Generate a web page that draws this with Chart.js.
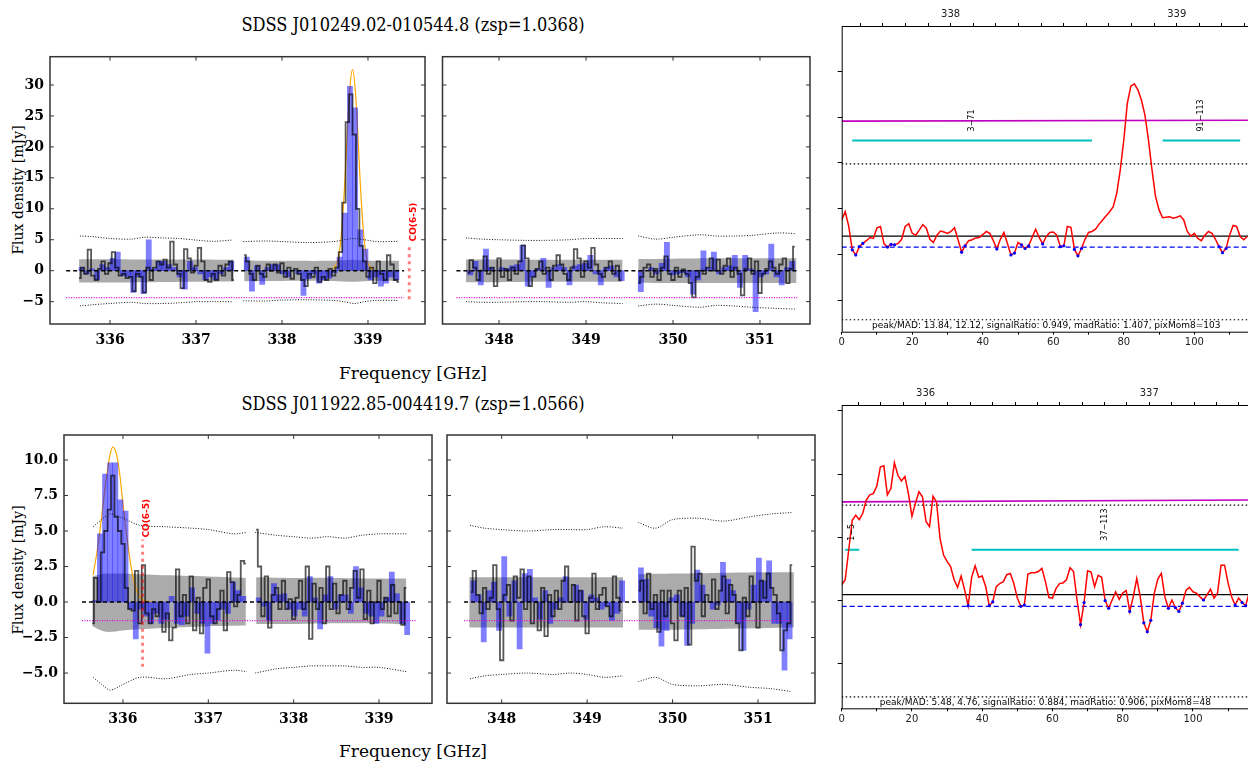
<!DOCTYPE html>
<html>
<head>
<meta charset="utf-8">
<script src="https://cdn.jsdelivr.net/npm/chart.js@4.4.1/dist/chart.umd.min.js"></script>
<style>
  html, body { margin:0; padding:0; background:#fff; width:1248px; height:761px; overflow:hidden; position:relative; }
  canvas { position:absolute; }
  .lbl { position:absolute; left:0; width:826px; height:20px; line-height:20px; text-align:center; font-family:'DejaVu Serif', serif; color:#000; white-space:nowrap; }
  .ttl { font-family:'DejaVu Serif Condensed', 'DejaVu Serif', serif; font-stretch:condensed; font-size:18px; }
  .ylab { position:absolute; font-family:'DejaVu Serif', serif; font-size:14px; color:#000; white-space:nowrap; transform:translate(-50%,-50%) rotate(-90deg); }
</style>
</head>
<body>
<div class="lbl ttl" style="top:15px;">SDSS J010249.02-010544.8 (zsp=1.0368)</div>
<div class="lbl" style="top:363px;font-size:17px;">Frequency [GHz]</div>
<div class="ylab" style="left:18px;top:190px;">Flux density [mJy]</div>
<div class="lbl ttl" style="top:394px;">SDSS J011922.85-004419.7 (zsp=1.0566)</div>
<div class="lbl" style="top:741px;font-size:17px;">Frequency [GHz]</div>
<div class="ylab" style="left:18px;top:570px;">Flux density [mJy]</div>

<canvas id="specA" width="440" height="320" style="left:0px;top:40px"></canvas>
<canvas id="specB" width="390" height="320" style="left:430px;top:40px"></canvas>
<canvas id="diagTop" width="460" height="360" style="left:800px;top:0px"></canvas>
<canvas id="specC" width="440" height="320" style="left:0px;top:420px"></canvas>
<canvas id="specD" width="390" height="320" style="left:440px;top:420px"></canvas>
<canvas id="diagBot" width="460" height="360" style="left:800px;top:380px"></canvas>

<script>
// ---------- row 1 : J010249.02-010544.8 ----------
// fine channels every 0.04 GHz, binned bars every 0.06 GHz
const grayA1 = [-1.2, 0.5, -0.5, 3.4, -0.8, -1.5, 0.3, 1.5, -0.5, 1.2,
  3.0, 0.5, -0.8, -0.5, -1.2, -1.0, -3.3, -0.5, -1.0, -3.5,
  0.5, -1.5, 0.5, 1.5, 1.0, 1.8, 0.5, 4.7, 1.0, -0.5,
  -2.8, 3.5, 2.0, -0.3, 0.8, 3.7, 1.5, -1.5, -1.8, -0.5,
  -1.5, 0.8, -0.8, 1.0, 1.5, -1.5];
const grayA2 = [2.5, 1.5, -0.5, -1.5, 0.8, -0.5, -1.0, 1.0, 0.0, 1.0,
  -0.3, 1.2, -1.0, 0.5, -1.3, 0.3, -0.5, -1.5, -2.5, -0.5,
  -1.0, 0.5, -1.8, -1.0, -1.5, 0.3, -0.8, 0.5, 3.0, 11.0,
  24.0, 28.5, 22.0, 10.0, 4.0, 1.5, -1.0, 0.5, -2.0, 1.5,
  -0.5, -1.5, 2.5, 1.0, -1.5, -1.8];
const blueA1 = [0.5, -0.5, 0.3, -1.5, 1.0, 0.5, 2.0, 3.0, -0.8, -1.0,
  -3.5, -1.0, -3.7, 5.0, 0.3, 1.5, 1.5, 1.0, 0.5, -1.0,
  -3.0, 1.5, 0.5, -0.5, -1.5, -1.0, -1.5, -0.5, 0.5, 1.5];
const blueA2 = [2.2, -3.3, 0.8, -2.2, 0.5, 1.0, 1.0, -0.5, -1.0, 0.0,
  -0.5, -4.0, -1.3, -0.5, -2.0, -1.5, -1.2, -0.3, 2.2, 9.3,
  29.8, 26.3, 6.6, 3.5, -1.5, -1.0, -2.5, -2.0, -1.0, -1.5];
const fitFreqA = [338.58, 338.64, 338.67, 338.70, 338.73, 338.76, 338.79, 338.82, 338.85, 338.88, 338.91, 338.94, 338.97, 339.00, 339.06];
const fitValA = [0.2, 1.3, 3.3, 7.5, 14.2, 22.5, 29.6, 32.5, 29.6, 22.5, 14.2, 7.5, 3.3, 1.2, 0.1];

const grayB1 = [-0.3, 1.7, 0.5, -1.5, 0.0, 2.3, -0.5, 0.5, -2.5, 2.0,
  -1.0, 0.3, -1.5, 0.5, -0.5, 1.5, 4.1, 2.0, -2.5, -1.0,
  0.3, 1.5, -0.5, 0.5, -1.5, 0.8, 2.5, 1.0, -0.5, -1.5,
  0.5, 3.5, 2.0, -1.0, 1.5, 0.5, 3.7, 1.0, -0.5, -1.0,
  0.5, 1.5, -0.5, 0.8, -1.5];
const grayB2 = [-2.0, -1.0, 0.5, 1.0, -1.0, 0.3, -1.5, 0.5, 2.3, -0.5,
  -1.5, 0.5, -1.0, 0.2, -0.5, -2.0, -4.3, -1.0, 0.0, -0.5,
  0.5, 2.0, 0.0, 1.8, -0.5, 0.8, 2.0, -1.0, 0.5, -0.5,
  -4.0, 0.3, 2.0, -0.5, 1.5, -3.6, -0.5, 0.3, 1.5, 0.5,
  -0.5, 1.0, 2.0, -2.0, 0.3, 3.9];
const blueB1 = [-0.7, 1.5, -2.3, 3.5, 0.5, 0.0, 0.5, 0.3, 0.8, 1.0,
  4.1, -2.5, -1.0, 0.3, 2.0, -2.7, 0.5, 1.0, 0.5, -2.3,
  0.8, 1.0, 1.2, 2.5, -0.5, -2.3, 0.5, 0.8, -1.0, -1.6];
const blueB2 = [-3.4, 0.0, 0.5, -0.5, 1.2, 4.6, -0.7, -0.5, -0.3, -1.0,
  -3.8, -1.5, 3.2, 0.5, 3.0, -0.5, 0.5, 0.8, 2.5, -2.7,
  2.5, 0.3, -6.6, -1.0, -0.5, 4.3, -1.0, -2.3, 0.5, 1.5];

// noise band (+-1 sigma) and 3 sigma envelopes
const bandA = [
  { f: [335.64, 336.0, 336.5, 337.0, 337.44], hi: [1.85, 1.85, 1.8, 1.8, 1.75], lo: [-1.9, -1.9, -1.85, -1.8, -1.75] },
  { f: [337.56, 338.0, 338.6, 338.82, 339.0, 339.36], hi: [1.65, 1.6, 1.6, 1.75, 1.6, 1.6], lo: [-1.7, -1.65, -1.65, -1.8, -1.65, -1.65] }];
const envA = [
  { f: [335.65, 335.8, 336.0, 336.25, 336.4, 336.6, 336.8, 337.0, 337.2, 337.42], hi: [5.6, 5.5, 5.2, 5.1, 5.4, 5.3, 5.2, 4.95, 4.75, 4.95], lo: [-5.7, -5.5, -5.3, -5.1, -5.3, -5.3, -5.2, -5.0, -5.0, -5.0] },
  { f: [337.55, 337.8, 338.0, 338.3, 338.6, 338.72, 338.84, 338.96, 339.1, 339.35], hi: [4.7, 4.8, 4.7, 4.55, 4.7, 5.0, 5.2, 5.0, 4.7, 4.75], lo: [-4.85, -4.9, -4.75, -4.7, -4.8, -5.0, -5.3, -5.0, -4.8, -4.8] }];
const bandB = [
  { f: [347.62, 348.0, 348.5, 349.0, 349.42], hi: [1.8, 1.8, 1.75, 1.75, 1.75], lo: [-1.85, -1.85, -1.8, -1.8, -1.8] },
  { f: [349.6, 350.0, 350.5, 351.0, 351.42], hi: [1.9, 1.95, 2.0, 2.0, 2.0], lo: [-1.95, -2.0, -2.0, -2.0, -2.0] }];
const envB = [
  { f: [347.62, 347.8, 348.0, 348.3, 348.5, 348.8, 349.0, 349.2, 349.42], hi: [5.3, 5.1, 5.0, 4.9, 4.9, 5.0, 5.2, 5.2, 5.2], lo: [-5.0, -5.1, -5.1, -5.0, -5.0, -5.1, -5.0, -5.2, -5.3] },
  { f: [349.6, 349.8, 350.0, 350.3, 350.5, 350.7, 350.9, 351.2, 351.4], hi: [5.6, 5.1, 5.4, 5.8, 5.6, 5.6, 5.7, 6.1, 6.0], lo: [-5.7, -5.4, -5.6, -5.9, -5.6, -5.7, -5.9, -6.1, -6.2] }];

// ---------- row 2 : J011922.85-004419.7 ----------
const grayC1 = [-1.5, 1.7, 0.0, 3.5, 5.0, 6.5, 8.9, 6.0, 5.0, 4.1,
  1.0, -0.5, -0.6, 2.2, -1.5, 2.6, -0.8, -1.5, -0.5, -1.0,
  0.0, -2.1, -0.8, -2.7, -1.8, 2.3, -1.0, 0.5, -1.5, 1.8,
  -2.0, 0.3, -2.2, 1.0, 1.6, -1.0, -1.5, -0.5, 0.8, -2.0,
  2.1, 1.4, -0.3, 0.5, 2.9, 2.7];
const grayC2 = [5.1, 2.5, -1.0, 1.8, -1.8, 0.5, 1.0, -0.5, 1.5, -0.5,
  0.2, -1.2, 0.3, 1.5, -0.5, 2.5, -2.6, 1.3, -0.5, 1.0,
  -1.5, 2.5, -0.5, 1.3, -0.8, 0.5, 1.5, -0.5, 1.0, 2.2,
  0.3, 2.3, -1.2, 0.8, -1.5, 0.0, 1.5, -0.5, 0.3, -1.0,
  1.2, -0.8, 0.0, -1.6, 1.0];
const blueC1 = [0.1, 4.8, 9.0, 9.8, 9.8, 7.2, 6.4, -0.5, -2.6, -0.5,
  -1.0, -1.5, -0.8, -1.5, -1.2, 0.4, -1.5, -1.6, -1.0, 1.0,
  -0.8, -1.5, -3.6, -1.5, -1.3, -0.5, -0.8, 1.4, 0.8, 0.4];
const blueC2 = [0.3, -0.3, -1.3, 1.3, 0.5, 0.6, -0.5, -1.0, -0.5, -1.0,
  1.8, 0.3, -1.9, 0.5, 1.8, -0.5, 0.5, 0.5, -0.8, 2.5,
  1.0, -0.8, -1.0, -1.5, -1.0, 0.3, 2.1, 0.6, -1.5, -2.3];
const fitFreqC = [335.65, 335.70, 335.75, 335.80, 335.85, 335.88, 335.92, 335.96, 336.00, 336.05, 336.10, 336.15, 336.20, 336.26, 336.35];
const fitValC = [1.9, 3.7, 6.0, 8.5, 10.4, 10.9, 10.5, 9.1, 6.9, 4.4, 2.3, 1.0, 0.35, 0.08, 0.0];

const grayD1 = [0.7, 2.2, 0.5, -0.8, 1.0, -0.5, 0.3, 2.6, -0.5, -4.1,
  0.5, 1.2, -1.3, 1.8, 0.3, 2.3, -0.5, 1.8, -1.5, 0.0,
  -2.0, 1.0, -2.4, 0.5, -1.0, 0.8, -0.5, 1.5, 2.5, 0.0,
  1.2, -1.3, 0.8, -1.0, -2.2, 0.3, 2.0, -0.5, 0.5, 1.0,
  -0.3, -1.0, 1.8, 0.3, -0.6];
const grayD2 = [0.8, 1.5, -0.8, 2.0, -0.5, 0.5, -2.1, 0.8, -1.0, 0.8,
  -1.5, -2.7, 0.8, -1.0, 1.0, -3.0, 3.9, 1.5, 2.0, -1.0,
  0.5, 0.0, 1.6, -0.5, 0.8, 1.8, -0.8, 1.2, 0.5, -1.5,
  -3.4, 0.3, -1.0, 1.8, 0.0, -1.8, 1.5, 0.3, 2.0, 1.0,
  0.5, -0.8, -3.4, -2.0, -1.5, 2.6];
const blueD1 = [1.5, 0.5, -2.8, 0.8, 1.4, -2.0, 3.2, -1.0, 1.5, -3.3,
  2.0, 2.3, 0.3, -1.2, 0.8, -1.5, -0.5, 0.3, 1.8, 0.0,
  1.2, 0.8, -1.2, 0.5, 0.3, -0.5, -0.3, -1.3, -0.8, 1.5];
const blueD2 = [2.4, 1.6, -1.0, -1.8, -3.1, -2.0, 0.3, 0.5, -1.0, -3.05,
  -1.5, 2.25, 1.2, 0.0, -0.5, -0.2, 2.8, 1.6, 0.8, -1.5,
  -3.4, -0.5, 1.2, 3.1, 1.5, 2.9, -1.5, -1.5, -4.8, -2.6];

const bandC = [
  { f: [335.64, 335.8, 336.0, 336.4, 337.0, 337.44], hi: [1.8, 2.0, 2.0, 1.9, 1.8, 1.7], lo: [-1.7, -2.1, -2.0, -1.85, -1.7, -1.65] },
  { f: [337.56, 338.0, 338.5, 339.0, 339.32], hi: [1.75, 1.7, 1.7, 1.65, 1.65], lo: [-1.55, -1.55, -1.5, -1.5, -1.6] }];
const envC = [
  { f: [335.65, 335.75, 335.85, 336.0, 336.2, 336.5, 336.8, 337.0, 337.3, 337.45], hi: [5.3, 5.8, 6.2, 5.9, 5.4, 5.3, 5.2, 5.1, 4.8, 4.9], lo: [-5.3, -5.8, -6.2, -5.8, -5.3, -5.4, -5.1, -5.0, -4.8, -4.9] },
  { f: [337.55, 337.8, 338.0, 338.2, 338.4, 338.6, 338.8, 339.0, 339.32], hi: [4.9, 4.7, 4.6, 4.5, 4.6, 4.5, 4.7, 4.8, 4.8], lo: [-5.0, -4.7, -4.6, -4.5, -4.5, -4.5, -4.6, -4.6, -4.9] }];
const bandD = [
  { f: [347.62, 348.0, 348.5, 349.0, 349.42], hi: [1.75, 1.75, 1.75, 1.75, 1.75], lo: [-1.8, -1.8, -1.8, -1.8, -1.8] },
  { f: [349.6, 350.0, 350.5, 351.0, 351.42], hi: [1.95, 2.0, 2.05, 2.1, 2.1], lo: [-1.95, -1.95, -1.9, -1.85, -1.8] }];
const envD = [
  { f: [347.63, 347.8, 348.0, 348.3, 348.6, 348.8, 349.0, 349.2, 349.42], hi: [5.4, 5.2, 5.1, 5.0, 5.1, 5.1, 5.1, 5.3, 5.2], lo: [-5.4, -5.2, -5.1, -5.0, -5.1, -5.0, -5.1, -5.3, -5.2] },
  { f: [349.6, 349.8, 350.0, 350.3, 350.6, 350.9, 351.15, 351.39], hi: [5.6, 5.2, 5.8, 5.9, 5.7, 6.0, 6.2, 6.3], lo: [-5.6, -5.3, -5.8, -5.9, -5.8, -6.0, -6.1, -6.3] }];

// ---------- diagnostic (smoothed) spectra, per channel ----------
const smoothTop = [1.76, 1.94, 1.62, 1.11, 1.0, 1.18, 1.25, 1.31, 1.38, 1.36,
  1.59, 1.62, 1.24, 1.17, 1.23, 1.22, 1.25, 1.34, 1.62, 1.68,
  1.47, 1.43, 1.54, 1.66, 1.58, 1.34, 1.27, 1.43, 1.52, 1.5,
  1.47, 1.51, 1.59, 1.33, 1.06, 1.2, 1.31, 1.33, 1.37, 1.38,
  1.44, 1.51, 1.47, 1.31, 1.13, 1.34, 1.49, 1.25, 1.0, 1.04,
  1.27, 1.22, 1.14, 1.2, 1.38, 1.56, 1.38, 1.24, 1.4, 1.49,
  1.5, 1.43, 1.18, 1.2, 1.62, 1.6, 1.12, 0.98, 1.14, 1.34,
  1.49, 1.51, 1.56, 1.67, 1.76, 1.85, 1.94, 2.05, 2.34, 2.85,
  3.5, 4.3, 4.67, 4.72, 4.59, 4.37, 4.04, 3.5, 2.85, 2.27,
  1.98, 1.81, 1.82, 1.83, 1.8, 1.82, 1.85, 1.76, 1.51, 1.41,
  1.47, 1.36, 1.31, 1.43, 1.51, 1.47, 1.34, 1.18, 1.05, 1.14,
  1.43, 1.64, 1.62, 1.4, 1.33, 1.4];
const lowTop = [3, 4, 5, 6, 13, 14, 15, 34, 35, 44, 48, 49, 51, 52, 53, 57, 62, 63, 66, 67, 68, 107, 108, 109];
const smoothBot = [0.25, 0.33, 0.8, 1.27, 1.35, 1.28, 1.38, 1.59, 1.67, 1.69,
  1.81, 2.11, 2.13, 1.67, 1.77, 2.18, 1.98, 1.89, 1.96, 1.69,
  1.33, 1.54, 1.72, 1.64, 1.25, 1.17, 1.65, 1.56, 0.98, 0.72,
  0.62, 0.54, 0.33, 0.21, 0.39, 0.17, -0.08, 0.37, 0.55, 0.37,
  0.39, 0.22, -0.08, -0.02, 0.22, 0.27, 0.3, 0.41, 0.43, 0.27,
  0.04, -0.09, -0.07, 0.42, 0.44, 0.44, 0.46, 0.51, 0.3, 0.05,
  0.04, 0.19, 0.27, 0.28, 0.33, 0.52, 0.46, 0.01, -0.38, -0.03,
  0.47, 0.45, 0.22, 0.4, 0.37, 0.0, -0.12, 0.01, 0.14, 0.02,
  0.12, 0.16, -0.17, 0.06, 0.35, 0.06, -0.35, -0.49, -0.31, 0.12,
  0.34, 0.43, 0.06, -0.12, 0.01, -0.11, -0.17, -0.04, 0.16, 0.21,
  0.14, 0.12, 0.06, 0.01, 0.09, 0.18, 0.04, 0.12, 0.56, 0.56,
  0.28, 0.06, -0.07, 0.04, -0.03, -0.08, 0.12];
const lowBot = [36, 42, 43, 51, 52, 68, 69, 75, 76, 82, 86, 87, 88, 93, 95, 96, 97, 103, 112, 114, 115];

const rangesTop = [[3, 71], [91, 113]];
const rangesBot = [[1, 5], [37, 113]];
const statsTop = { peakMad: [13.84, 12.12], signalRatio: 0.949, madRatio: 1.407, pixMom8: 103 };
const statsBot = { peakMad: [5.48, 4.76], signalRatio: 0.884, madRatio: 0.906, pixMom8: 48 };

// tick values
const xTicksLow = [336, 337, 338, 339];
const xTicksHigh = [348, 349, 350, 351];
const yTicksRow1 = [-5, 0, 5, 10, 15, 20, 25, 30];
const yTicksRow2 = [-5, -2.5, 0, 2.5, 5, 7.5, 10];
const chanTicks = [0, 10, 20, 30, 40, 50, 60, 70, 80, 90, 100, 110];

const SERIF = "'DejaVu Serif', serif";
const SANS = "'DejaVu Sans', sans-serif";
const CLEAR = 'rgba(0,0,0,0)';

function pts(fs, vs) { return fs.map((f, i) => ({ x: f, y: vs[i] })); }
function chans(start, step, vs) { return vs.map((v, i) => ({ x: +(start + step * i).toFixed(3), y: v })); }
function gap(a, b) { return a.concat([{ x: (a[a.length - 1].x + b[0].x) / 2, y: null }], b); }
function minus(s) { return String(s).replace('-', '\u2212'); }

const specFrame = {
  id: 'specFrame',
  afterDraw(chart, args, o) {
    const { ctx, chartArea: a } = chart;
    const sx = chart.scales.x, sy = chart.scales.y;
    ctx.save();
    ctx.strokeStyle = '#333';
    ctx.lineWidth = 1;
    ctx.beginPath();
    o.xTicks.forEach(v => {
      const p = sx.getPixelForValue(v);
      ctx.moveTo(p, a.bottom); ctx.lineTo(p, a.bottom - 4);
      ctx.moveTo(p, a.top); ctx.lineTo(p, a.top + 4);
    });
    o.yTicks.forEach(v => {
      const p = sy.getPixelForValue(v);
      ctx.moveTo(a.left, p); ctx.lineTo(a.left + 4, p);
      ctx.moveTo(a.right, p); ctx.lineTo(a.right - 4, p);
    });
    ctx.stroke();
    ctx.lineWidth = 1.5;
    ctx.strokeRect(a.left, a.top, a.width, a.height);
    if (o.co) {
      ctx.translate(sx.getPixelForValue(o.co.x) + 4, sy.getPixelForValue(o.co.hi) - 2);
      ctx.rotate(-Math.PI / 2);
      ctx.fillStyle = 'red';
      ctx.font = "bold 9px 'DejaVu Sans'";
      ctx.textAlign = 'left';
      ctx.textBaseline = 'middle';
      ctx.fillText(o.co.label, 0, 0);
    }
    ctx.restore();
  }
};

function spectrum(id, p) {
  const ds = [];
  p.bands.forEach(b => {
    ds.push({ data: pts(b.f, b.hi), fill: '+1', backgroundColor: 'rgba(150,150,150,0.8)', borderColor: CLEAR, borderWidth: 0, pointRadius: 0, tension: 0.3, order: 7 });
    ds.push({ data: pts(b.f, b.lo), fill: false, borderColor: CLEAR, borderWidth: 0, pointRadius: 0, tension: 0.3, order: 7 });
  });
  if (p.fit) {
    ds.push({ data: pts(p.fit.f, p.fit.v), borderColor: 'orange', borderWidth: 1.2, pointRadius: 0, cubicInterpolationMode: 'monotone', order: 6 });
  }
  ds.push({ type: 'bar', data: p.bars, backgroundColor: 'rgba(0,0,255,0.5)', borderWidth: 0, barPercentage: 1, categoryPercentage: 1, grouped: false, order: 5 });
  ds.push({ data: p.line, stepped: 'middle', borderColor: 'rgba(0,0,0,0.66)', borderWidth: 1.8, pointRadius: 0, spanGaps: false, order: 4 });
  p.env.forEach(e => {
    ds.push({ data: pts(e.f, e.hi), borderColor: '#111', borderWidth: 1, borderDash: [1, 1.6], pointRadius: 0, tension: 0.3, order: 3 });
    ds.push({ data: pts(e.f, e.lo), borderColor: '#111', borderWidth: 1, borderDash: [1, 1.6], pointRadius: 0, tension: 0.3, order: 3 });
  });
  ds.push({ data: [{ x: p.span[0], y: p.mag }, { x: p.span[1], y: p.mag }], borderColor: '#e000e0', borderWidth: 1.2, borderDash: [1, 1.5], pointRadius: 0, order: 2 });
  ds.push({ data: [{ x: p.span[0], y: 0 }, { x: p.span[1], y: 0 }], borderColor: '#000', borderWidth: 1.5, borderDash: [4, 3], pointRadius: 0, order: 1 });
  if (p.co) {
    ds.push({ data: [{ x: p.co.x, y: p.co.lo }, { x: p.co.x, y: p.co.hi }], borderColor: 'rgba(255,0,0,0.5)', borderWidth: 3, borderDash: [3, 4], pointRadius: 0, order: 0 });
  }
  new Chart(document.getElementById(id), {
    type: 'line',
    data: { datasets: ds },
    options: {
      responsive: false, animation: false, events: [],
      layout: { padding: { left: p.pad[0], top: p.pad[1], right: p.pad[2], bottom: 0 } },
      plugins: {
        legend: { display: false }, tooltip: { enabled: false },
        specFrame: { xTicks: p.xTicks, yTicks: p.yTicks, co: p.co }
      },
      scales: {
        x: {
          type: 'linear', min: p.x[0], max: p.x[1], offset: false,
          afterBuildTicks: s => { s.ticks = p.xTicks.map(v => ({ value: v })); },
          afterFit: s => { s.height = p.xh; },
          grid: { display: false, drawTicks: false }, border: { display: false },
          ticks: { padding: 8, color: '#000', autoSkip: false, maxRotation: 0, font: { family: SERIF, size: 14, weight: 'bold' }, callback: v => minus(v) }
        },
        y: {
          type: 'linear', min: p.y[0], max: p.y[1],
          afterBuildTicks: s => { s.ticks = p.yTicks.map(v => ({ value: v })); },
          afterFit: s => { s.width = p.yw; },
          grid: { display: false, drawTicks: false }, border: { display: false },
          ticks: { display: p.yLabels, padding: 6, color: '#000', autoSkip: false, font: { family: SERIF, size: 14, weight: 'bold' }, callback: v => minus(p.yDec ? v.toFixed(p.yDec) : v) }
        }
      }
    },
    plugins: [specFrame]
  });
}

const diagFrame = {
  id: 'diagFrame',
  afterDraw(chart, args, o) {
    const { ctx, chartArea: a } = chart;
    const sx = chart.scales.x, sy = chart.scales.y;
    ctx.save();
    ctx.strokeStyle = '#000';
    ctx.lineWidth = 1;
    ctx.strokeRect(a.left + 0.5, a.top + 0.5, a.width, a.height);
    ctx.fillStyle = '#000';
    ctx.font = "8px 'DejaVu Sans'";
    o.ranges.forEach(r => {
      ctx.save();
      ctx.translate(sx.getPixelForValue((r[0] + r[1]) / 2), sy.getPixelForValue(o.cyanY) - 9);
      ctx.rotate(-Math.PI / 2);
      ctx.textAlign = 'left';
      ctx.textBaseline = 'middle';
      ctx.fillText(r[0] + '\u2212' + r[1], 0, 0);
      ctx.restore();
    });
    const s = o.stats;
    const note = 'peak/MAD: ' + s.peakMad[0].toFixed(2) + ', ' + s.peakMad[1].toFixed(2) +
      ', signalRatio: ' + s.signalRatio.toFixed(3) + ', madRatio: ' + s.madRatio.toFixed(3) + ', pixMom8=' + s.pixMom8;
    ctx.font = "9px 'DejaVu Sans'";
    ctx.textAlign = 'center';
    ctx.textBaseline = 'middle';
    ctx.fillText(note, sx.getPixelForValue(o.noteX), sy.getPixelForValue(o.lo) + 6);
    ctx.restore();
  }
};

function diag(id, p) {
  const XEND = 120;
  const hl = (x0, x1, y0, y1, color, w, dash) => ({ data: [{ x: x0, y: y0 }, { x: x1, y: y1 }], borderColor: color, borderWidth: w, borderDash: dash, pointRadius: 0, order: 2 });
  const ds = [
    { data: p.spec.map((v, i) => ({ x: i, y: v })), borderColor: 'red', borderWidth: 1.5, pointRadius: 0, order: 1 },
    { data: p.low.map(i => ({ x: i, y: p.spec[i] })), showLine: false, pointRadius: 1.6, pointBackgroundColor: 'blue', pointBorderWidth: 0, order: 0 },
    hl(0, XEND, p.mag[0], p.mag[1], '#c000c0', 1.6, []),
    hl(0, XEND, p.hi, p.hi, '#000', 1.2, [1.5, 2.5]),
    hl(0, XEND, p.med, p.med, '#000', 1.3, []),
    hl(0, XEND, p.blue, p.blue, '#0000ff', 1.3, [5, 3]),
    hl(0, XEND, p.lo, p.lo, '#000', 1.2, [1.5, 2.5])
  ];
  p.ranges.forEach(r => ds.push(hl(r[0], r[1], p.cyanY, p.cyanY, '#00c0c0', 2, [])));
  const fTicks = [];
  for (let k = Math.ceil(p.f[0] * 10); k <= Math.floor(p.f[1] * 10); k++) fTicks.push(k / 10);
  new Chart(document.getElementById(id), {
    type: 'line',
    data: { datasets: ds },
    options: {
      responsive: false, animation: false, events: [],
      layout: { padding: { left: 0, top: 0, right: 10.5, bottom: 0 } },
      plugins: {
        legend: { display: false }, tooltip: { enabled: false },
        diagFrame: { ranges: p.ranges, cyanY: p.cyanY, stats: p.stats, noteX: 58, lo: p.lo }
      },
      scales: {
        x: {
          type: 'linear', position: 'bottom', min: 0, max: p.xMax,
          afterBuildTicks: s => { s.ticks = chanTicks.map(v => ({ value: v })); },
          afterFit: s => { s.height = p.xh; },
          grid: { drawOnChartArea: false, tickLength: 3, color: '#000' }, border: { display: false },
          ticks: { padding: 2, color: '#222', autoSkip: false, maxRotation: 0, font: { family: SANS, size: 10 }, callback: v => (v % 20 === 0 ? v : '') }
        },
        x2: {
          type: 'linear', position: 'top', min: p.f[0], max: p.f[1],
          afterBuildTicks: s => { s.ticks = fTicks.map(v => ({ value: v })); },
          afterFit: s => { s.height = p.th; },
          grid: { drawOnChartArea: false, tickLength: 3, color: '#000' }, border: { display: false },
          ticks: { padding: 3, color: '#222', autoSkip: false, maxRotation: 0, font: { family: SANS, size: 10 }, callback: v => (Number.isInteger(v) ? v : '') }
        },
        y: {
          type: 'linear', min: p.y[0], max: p.y[1],
          afterBuildTicks: s => { s.ticks = p.yTicks.map(v => ({ value: v })); },
          afterFit: s => { s.width = 41.7; },
          grid: { drawOnChartArea: false, tickLength: 4, color: '#000' }, border: { display: false },
          ticks: { display: false }
        }
      }
    },
    plugins: [diagFrame]
  });
}

spectrum('specA', {
  x: [335.302, 339.663], y: [-8.61, 34.57], pad: [0, 16.7, 15], yw: 50, xh: 36,
  xTicks: xTicksLow, yTicks: yTicksRow1, yLabels: true, yDec: 0,
  bands: bandA, env: envA, fit: { f: fitFreqA, v: fitValA },
  bars: chans(335.67, 0.06, blueA1).concat(chans(337.59, 0.06, blueA2)),
  line: gap(chans(335.64, 0.04, grayA1), chans(337.56, 0.04, grayA2)),
  span: [335.49, 339.42], mag: -4.36,
  co: { x: 339.48, lo: -4.6, hi: 4.4, label: 'CO(6-5)' }
});
spectrum('specB', {
  x: [347.35, 351.575], y: [-8.61, 34.57], pad: [12.5, 16.7, 10], yw: 0, xh: 36,
  xTicks: xTicksHigh, yTicks: yTicksRow1, yLabels: false,
  bands: bandB, env: envB,
  bars: chans(347.67, 0.06, blueB1).concat(chans(349.63, 0.06, blueB2)),
  line: gap(chans(347.64, 0.04, grayB1), chans(349.60, 0.04, grayB2)),
  span: [347.51, 351.43], mag: -4.36
});
spectrum('specC', {
  x: [335.309, 339.621], y: [-7.13, 11.76], pad: [0, 15, 8], yw: 64, xh: 36.7,
  xTicks: xTicksLow, yTicks: yTicksRow2, yLabels: true, yDec: 1,
  bands: bandC, env: envC, fit: { f: fitFreqC, v: fitValC },
  bars: chans(335.67, 0.06, blueC1).concat(chans(337.59, 0.06, blueC2)),
  line: gap(chans(335.64, 0.04, grayC1), chans(337.56, 0.04, grayC2)),
  span: [335.52, 339.44], mag: -1.31,
  co: { x: 336.23, lo: -4.55, hi: 4.4, label: 'CO(6-5)' }
});
spectrum('specD', {
  x: [347.36, 351.667], y: [-7.13, 11.76], pad: [7, 15, 15], yw: 0, xh: 36.7,
  xTicks: xTicksHigh, yTicks: yTicksRow2, yLabels: false,
  bands: bandD, env: envD,
  bars: chans(347.67, 0.06, blueD1).concat(chans(349.63, 0.06, blueD2)),
  line: gap(chans(347.64, 0.04, grayD1), chans(349.60, 0.04, grayD2)),
  span: [347.56, 351.39], mag: -1.31
});

diag('diagTop', {
  spec: smoothTop, low: lowTop, ranges: rangesTop, stats: statsTop,
  xMax: 115.65, f: [337.518, 339.322], y: [-0.67, 5.98], yTicks: [0, 1, 2, 3, 4, 5],
  th: 26, xh: 28.3,
  mag: [3.91, 3.93], cyanY: 3.49, hi: 2.98, med: 1.41, blue: 1.17, lo: -0.41
});
diag('diagBot', {
  spec: smoothBot, low: lowBot, ranges: rangesBot, stats: statsBot,
  xMax: 116.1, f: [335.625, 337.448], y: [-1.7, 3.09], yTicks: [-1, 0, 1, 2, 3],
  th: 25, xh: 31.7,
  mag: [1.56, 1.59], cyanY: 0.805, hi: 1.51, med: 0.095, blue: -0.09, lo: -1.52
});
</script>
</body>
</html>
